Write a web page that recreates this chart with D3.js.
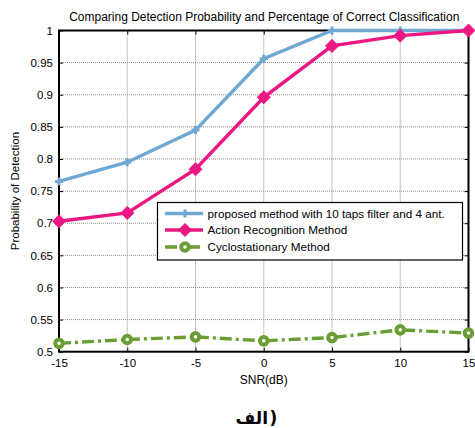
<!DOCTYPE html>
<html><head><meta charset="utf-8">
<script src="https://cdn.jsdelivr.net/npm/d3@7"></script>
<style>body{margin:0;background:#fff;} svg{display:block;}</style>
</head><body>
<script>
const snr = [-15, -10, -5, 0, 5, 10, 15];
const proposed = [0.765, 0.795, 0.845, 0.956, 1.0, 1.0, 1.0];
const actionRec = [0.703, 0.716, 0.784, 0.896, 0.976, 0.992, 1.0];
const cyclo = [0.513, 0.519, 0.523, 0.517, 0.522, 0.534, 0.529];
const xTicks = [-15, -10, -5, 0, 5, 10, 15];
const yTicks = [0.5, 0.55, 0.6, 0.65, 0.7, 0.75, 0.8, 0.85, 0.9, 0.95, 1];
const seriesNames = ["proposed method with 10 taps filter and 4 ant.", "Action Recognition Method", "Cyclostationary Method"];
const colors = ["#6fa8d2", "#ec1782", "#6a9e34"];

const W = 475, H = 428;
const L = 59, R = 468.5, T = 30.5, B = 351.7;
const svg = d3.select("body").append("svg").attr("width", W).attr("height", H);
const x = d3.scaleLinear().domain([-15, 15]).range([L, R]);
const y = d3.scaleLinear().domain([0.5, 1]).range([B, T]);
const font = "Liberation Sans, Arial, sans-serif";

// grid
const g = svg.append("g");
g.selectAll(".gx").data(xTicks.slice(1, -1)).enter().append("line")
  .attr("x1", d => x(d)).attr("x2", d => x(d)).attr("y1", T).attr("y2", B)
  .attr("stroke", "#8a8a8a").attr("stroke-width", 1).attr("stroke-dasharray", "1,1");
g.selectAll(".gy").data(yTicks.slice(1, -1)).enter().append("line")
  .attr("y1", d => y(d)).attr("y2", d => y(d)).attr("x1", L).attr("x2", R)
  .attr("stroke", "#8a8a8a").attr("stroke-width", 1).attr("stroke-dasharray", "1,1");

// axes
const xAxisB = d3.axisBottom(x).tickValues(xTicks).tickSize(-4).tickPadding(7).tickFormat(d => String(d));
const xAxisT = d3.axisTop(x).tickValues(xTicks).tickSize(-4).tickFormat("");
const yAxisL = d3.axisLeft(y).tickValues(yTicks).tickSize(-4).tickPadding(6).tickFormat(d => String(d));
const yAxisR = d3.axisRight(y).tickValues(yTicks).tickSize(-4).tickFormat("");
function styleAx(sel){
  sel.select(".domain").remove();
  sel.selectAll(".tick line").attr("stroke", "#000").attr("stroke-width", 1);
  sel.selectAll("text").attr("font-family", font).attr("font-size", 11.5).attr("fill", "#000");
}
svg.append("g").attr("transform", `translate(0,${B})`).call(xAxisB).call(styleAx);
svg.append("g").attr("transform", `translate(0,${T})`).call(xAxisT).call(styleAx);
svg.append("g").attr("transform", `translate(${L},0)`).call(yAxisL).call(styleAx);
svg.append("g").attr("transform", `translate(${R},0)`).call(yAxisR).call(styleAx);
svg.append("rect").attr("x", L).attr("y", T).attr("width", R - L).attr("height", B - T)
  .attr("fill", "none").attr("stroke", "#000").attr("stroke-width", 2);

// series
const data = [proposed, actionRec, cyclo];
const line = d3.line().x((d, i) => x(snr[i])).y(d => y(d));
const dashes = [null, null, "12,4,3,4"];
function drawMarker(sel, k, cx, cy){
  const c = colors[k];
  if (k === 0) {
    sel.append("path").attr("d", `M${cx-4},${cy}L${cx+4},${cy}M${cx},${cy-4}L${cx},${cy+4}`)
      .attr("stroke", c).attr("stroke-width", 3);
  } else if (k === 1) {
    const s = 6.5;
    sel.append("path").attr("d", `M${cx},${cy-s}L${cx+s},${cy}L${cx},${cy+s}L${cx-s},${cy}Z`)
      .attr("fill", c).attr("stroke", c).attr("stroke-width", 1);
  } else {
    sel.append("circle").attr("cx", cx).attr("cy", cy).attr("r", 3.8)
      .attr("fill", "#fff").attr("stroke", c).attr("stroke-width", 4);
  }
}
data.forEach((vals, k) => {
  svg.append("path").datum(vals).attr("d", line).attr("fill", "none")
    .attr("stroke", colors[k]).attr("stroke-width", 3.4)
    .attr("stroke-dasharray", dashes[k]);
  const mg = svg.append("g");
  vals.forEach((v, i) => drawMarker(mg, k, x(snr[i]), y(v)));
});

// legend
const lg = svg.append("g");
lg.append("rect").attr("x", 157.5).attr("y", 202.5).attr("width", 305).attr("height", 57.5)
  .attr("fill", "#fff").attr("stroke", "#000").attr("stroke-width", 1.2);
const rowsY = [213.5, 230, 247];
seriesNames.forEach((n, k) => {
  lg.append("line").attr("x1", 165).attr("x2", 203).attr("y1", rowsY[k]).attr("y2", rowsY[k])
    .attr("stroke", colors[k]).attr("stroke-width", 3.4).attr("stroke-dasharray", dashes[k] ? "12,4,3,4" : null);
  drawMarker(lg, k, 185, rowsY[k]);
  lg.append("text").attr("x", 207.5).attr("y", rowsY[k]).attr("dy", "0.35em")
    .attr("font-family", font).attr("font-size", 11.7).attr("fill", "#000").text(n);
});

// texts
svg.append("text").attr("x", (L + R) / 2 + 0.5).attr("y", 21).attr("text-anchor", "middle")
  .attr("font-family", font).attr("font-size", 12).attr("fill", "#000")
  .text("Comparing Detection Probability and Percentage of Correct Classification");
svg.append("text").attr("x", (L + R) / 2).attr("y", 384).attr("text-anchor", "middle")
  .attr("font-family", font).attr("font-size", 12).attr("fill", "#000").text("SNR(dB)");
svg.append("text").attr("transform", `translate(19,${(T + B) / 2}) rotate(-90)`).attr("text-anchor", "middle")
  .attr("font-family", font).attr("font-size", 11.5).attr("fill", "#000").text("Probability of Detection");
svg.append("text").attr("x", 268).attr("y", 424).attr("text-anchor", "end")
  .attr("font-family", "DejaVu Sans, sans-serif").attr("font-size", 17).attr("font-weight", "bold")
  .attr("fill", "#000").text("الف");
svg.append("text").attr("x", 269.5).attr("y", 424).attr("text-anchor", "start")
  .attr("font-family", "DejaVu Sans, sans-serif").attr("font-size", 17).attr("font-weight", "bold")
  .attr("fill", "#000").text(")");
</script>
</body></html>
